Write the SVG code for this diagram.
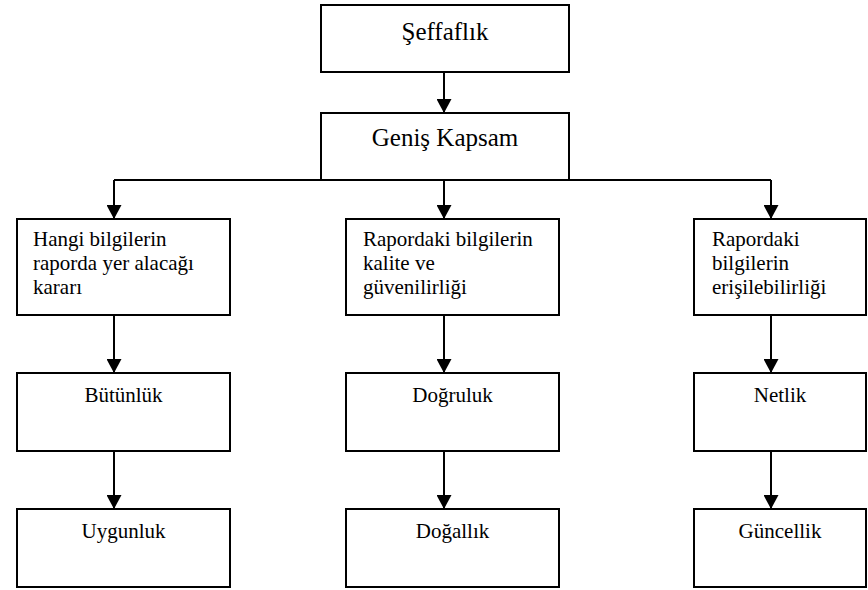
<svg xmlns="http://www.w3.org/2000/svg" width="868" height="590" viewBox="0 0 868 590">
<style>
.box{fill:#fff;stroke:#000;stroke-width:2}
.con{stroke:#000;stroke-width:2;fill:none}
</style>
<defs>
<marker id="ah" markerUnits="userSpaceOnUse" markerWidth="15" markerHeight="15" refX="14" refY="7.5" orient="auto">
<path d="M0,0 L14,7.5 L0,15 z" fill="#000"/>
</marker>
</defs>
<g id="connectors">
<path class="con" d="M444,72 V113" marker-end="url(#ah)"/>
<path class="con" d="M114,180 H771"/>
<path class="con" d="M114,180 V219" marker-end="url(#ah)"/>
<path class="con" d="M444,180 V219" marker-end="url(#ah)"/>
<path class="con" d="M771,180 V219" marker-end="url(#ah)"/>
<path class="con" d="M114,315 V373" marker-end="url(#ah)"/>
<path class="con" d="M444,315 V373" marker-end="url(#ah)"/>
<path class="con" d="M771,315 V373" marker-end="url(#ah)"/>
<path class="con" d="M114,451 V509" marker-end="url(#ah)"/>
<path class="con" d="M444,451 V509" marker-end="url(#ah)"/>
<path class="con" d="M771,451 V509" marker-end="url(#ah)"/>
</g>
<g id="seffaflik">
<rect class="box" x="321" y="5" width="248" height="67"/>
<text x="445" y="40" font-family="'Liberation Serif'" font-size="25" text-anchor="middle">Şeffaflık</text>
</g>
<g id="genis-kapsam">
<rect class="box" x="321" y="113" width="248" height="67"/>
<text x="445" y="146" font-family="'Liberation Serif'" font-size="25" text-anchor="middle">Geniş Kapsam</text>
</g>
<g id="hangi-bilgiler">
<rect class="box" x="17" y="219" width="213" height="96"/>
<text transform="translate(33,246) scale(0.84)" x="0" y="0" font-family="'Liberation Serif'" font-size="25">Hangi bilgilerin</text>
<text transform="translate(33,270) scale(0.84)" x="0" y="0" font-family="'Liberation Serif'" font-size="25">raporda yer alacağı</text>
<text transform="translate(33,294) scale(0.84)" x="0" y="0" font-family="'Liberation Serif'" font-size="25">kararı</text>
</g>
<g id="kalite">
<rect class="box" x="346" y="219" width="213" height="96"/>
<text transform="translate(363,246) scale(0.84)" x="0" y="0" font-family="'Liberation Serif'" font-size="25">Rapordaki bilgilerin</text>
<text transform="translate(363,270) scale(0.84)" x="0" y="0" font-family="'Liberation Serif'" font-size="25">kalite ve</text>
<text transform="translate(363,294) scale(0.84)" x="0" y="0" font-family="'Liberation Serif'" font-size="25">güvenilirliği</text>
</g>
<g id="erisilebilirlik">
<rect class="box" x="694" y="219" width="172" height="96"/>
<text transform="translate(712,246) scale(0.84)" x="0" y="0" font-family="'Liberation Serif'" font-size="25">Rapordaki</text>
<text transform="translate(712,270) scale(0.84)" x="0" y="0" font-family="'Liberation Serif'" font-size="25">bilgilerin</text>
<text transform="translate(712,294) scale(0.84)" x="0" y="0" font-family="'Liberation Serif'" font-size="25">erişilebilirliği</text>
</g>
<g id="butunluk">
<rect class="box" x="17" y="373" width="213" height="78"/>
<text transform="translate(123.5,402) scale(0.84)" x="0" y="0" font-family="'Liberation Serif'" font-size="25" text-anchor="middle">Bütünlük</text>
</g>
<g id="dogruluk">
<rect class="box" x="346" y="373" width="213" height="78"/>
<text transform="translate(452.5,402) scale(0.84)" x="0" y="0" font-family="'Liberation Serif'" font-size="25" text-anchor="middle">Doğruluk</text>
</g>
<g id="netlik">
<rect class="box" x="694" y="373" width="172" height="78"/>
<text transform="translate(780,402) scale(0.84)" x="0" y="0" font-family="'Liberation Serif'" font-size="25" text-anchor="middle">Netlik</text>
</g>
<g id="uygunluk">
<rect class="box" x="17" y="509" width="213" height="78"/>
<text transform="translate(123.5,538) scale(0.84)" x="0" y="0" font-family="'Liberation Serif'" font-size="25" text-anchor="middle">Uygunluk</text>
</g>
<g id="dogallik">
<rect class="box" x="346" y="509" width="213" height="78"/>
<text transform="translate(452.5,538) scale(0.84)" x="0" y="0" font-family="'Liberation Serif'" font-size="25" text-anchor="middle">Doğallık</text>
</g>
<g id="guncellik">
<rect class="box" x="694" y="509" width="172" height="78"/>
<text transform="translate(780,538) scale(0.84)" x="0" y="0" font-family="'Liberation Serif'" font-size="25" text-anchor="middle">Güncellik</text>
</g>
</svg>
